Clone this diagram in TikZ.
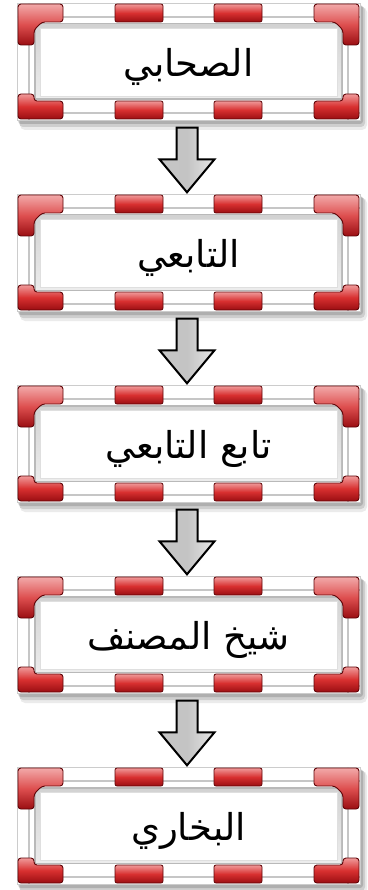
\documentclass[tikz,border=0pt]{standalone}
\usepackage{fontspec}
\newfontfamily\arabicfont[Script=Arabic]{DejaVu Sans}
\TeXXeTstate=1
\usetikzlibrary{calc}
\definecolor{rlight}{HTML}{F09A9A}
\definecolor{rmid}{HTML}{D83030}
\definecolor{rdark}{HTML}{9A0E12}
\definecolor{redge}{HTML}{600508}
\definecolor{arrgray}{HTML}{C4C4C4}
\tikzset{
  redseg/.style={draw=redge, line width=0.8, rounded corners=2, top color=rlight, bottom color=rdark, middle color=rmid},
  redcorner/.style={draw=redge, line width=0.9, rounded corners=3, shading=axis, shading angle=135, top color=rlight!85!white, bottom color=rdark, middle color=rmid!85!white},
  redcornerB/.style={draw=redge, line width=0.9, rounded corners=3, top color=rlight, bottom color=rdark, middle color=rmid},
  greyline/.style={draw=gray!45, line width=1.2},
  boxtext/.style={inner sep=0, minimum width=343, minimum height=117, font=\arabicfont\fontsize{37}{44}\selectfont},
  blockarrow/.style={draw=black, line width=2, line join=miter, left color=gray!45, right color=gray!20, middle color=arrgray}
}
\newcommand\hadithframe[3]{%
\begin{scope}[shift={(17,#2)}]
  % soft shadow
  \fill[black, opacity=0.08, rounded corners=5] (3,4) rectangle (350,127);
  \fill[black, opacity=0.12, rounded corners=4] (2,3) rectangle (348,124);
  \fill[black, opacity=0.15, rounded corners=3] (1,2) rectangle (346,121);
  % bands
  \fill[white] (0,0) rectangle (343,117);
  \draw[gray!40, line width=0.6] (0,0) rectangle (343,117);
  \draw[greyline] (0,14) -- (343,14);
  \draw[greyline] (0,110) -- (343,110);
  \draw[greyline] (12,0) -- (12,117);
  \draw[greyline] (331,0) -- (331,117);
  % inner area with bevel
  \fill[gray!55] (17,20) rectangle (326,97);
  \shade[top color=gray!35, bottom color=gray!15] (19,22) rectangle (324,95);
  \fill[white] (23,25) rectangle (320,93);
  \draw[gray!25, line width=0.8] (23,25) rectangle (320,93);
  % red segments, top
  \shade[redseg] (98,1) rectangle (146,19);
  \shade[redseg] (197,1) rectangle (245,19);
  % red segments, bottom
  \shade[redseg] (98,98) rectangle (146,116);
  \shade[redseg] (197,98) rectangle (245,116);
  % corners
  \shade[redcorner] (1,1) -- (46,1) -- (46,19) -- (25,19) -- (17,27) -- (17,42) -- (1,42) -- cycle;
  \shade[redcorner] (297,1) -- (342,1) -- (342,42) -- (326,42) -- (326,27) -- (318,19) -- (297,19) -- cycle;
  \shade[redcornerB] (1,91) -- (17,91) -- (17,98) -- (46,98) -- (46,116) -- (1,116) -- cycle;
  \shade[redcornerB] (297,98) -- (326,98) -- (326,91) -- (342,91) -- (342,116) -- (297,116) -- cycle;
  \node[boxtext, name=#1] at (171.5,64) {#3};
\end{scope}}
\begin{document}
\begin{tikzpicture}[x=1pt, y=-1pt]
\useasboundingbox (0,0) rectangle (367,890);
\fill[white] (0,0) rectangle (367,890);
\hadithframe{b1}{3}{\beginR الصحابي\endR}
\hadithframe{b2}{194}{\beginR التابعي\endR}
\hadithframe{b3}{385}{\beginR تابع التابعي\endR}
\hadithframe{b4}{576}{\beginR شيخ المصنف\endR}
\hadithframe{b5}{767}{\beginR البخاري\endR}
\foreach \p/\q in {b1/b2, b2/b3, b3/b4, b4/b5}{
  \path ($(\p.south)+(-1.5,2)$) coordinate (as);
  \path ($(\q.north)+(-1.5,-7)$) coordinate (ae);
  \shade[blockarrow] ($(as)+(-10.5,0)$) -- ($(as)+(10.5,0)$) -- ($(ae)+(10.5,-33)$) -- ($(ae)+(27.5,-33)$) -- (ae) -- ($(ae)+(-27.5,-33)$) -- ($(ae)+(-10.5,-33)$) -- cycle;
}
\end{tikzpicture}
\end{document}
